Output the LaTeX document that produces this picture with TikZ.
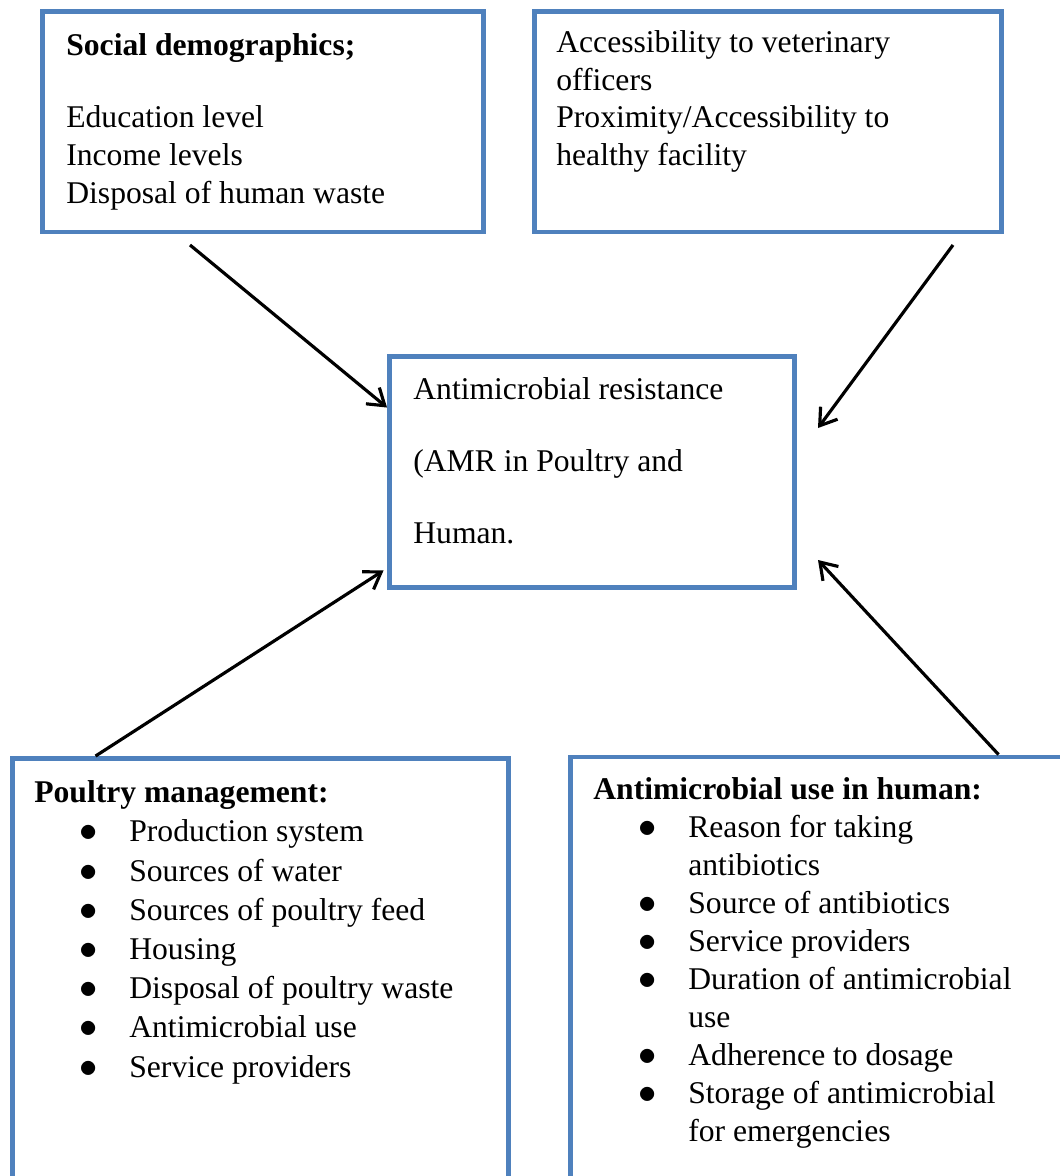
\documentclass[tikz,border=0pt]{standalone}
\usepackage{fontspec}
\setmainfont{Liberation Serif}
\usetikzlibrary{arrows.meta,fit,calc}
\definecolor{boxblue}{RGB}{79,129,189}
\newdimen\pix \pix=0.02cm
\newcommand{\bul}{\hspace*{45.2\pix}\makebox[49.8\pix][l]{\fontsize{20}{0}\selectfont$\bullet$}}
\newcommand{\cont}{\hspace*{95\pix}}
\begin{document}
\begin{tikzpicture}[x=0.02cm,y=-0.02cm,
        box/.style={draw=boxblue,line width=2.8pt,inner sep=0pt},
        txt/.style={anchor=base west,align=left,inner sep=0pt,font=\fontsize{18}{21.4}\selectfont},
        arr/.style={line width=1.8pt,-{Straight Barb[length=9pt,width=12pt]}}]
        \useasboundingbox (0,0) rectangle (1060,1176);
        %riquadri
        \node[box,fit={(42.5,11.5)(483.5,232)}] (social) {};
        \node[box,fit={(534.5,11.5)(1001.5,232)}] (access) {};
        \node[box,fit={(389.5,356.5)(794.5,587.5)}] (amr) {};
        \node[box,fit={(12.5,758.5)(508.5,1200)}] (poultry) {};
        \node[box,fit={(570.5,757)(1100,1200)}] (human) {};
        %testi (base = ultima riga)
        \node[txt] (socialtxt) at (66,203) {\textbf{Social demographics;}\\[19.9pt]
            Education level\\ Income levels\\ Disposal of human waste};
        \node[txt] (accesstxt) at (556,165.5) {Accessibility to veterinary\\ officers\\
            Proximity/Accessibility to\\ healthy facility};
        \node[txt,font=\fontsize{18}{41.1}\selectfont] (amrtxt) at (413,543.5)
            {Antimicrobial resistance\\ (AMR in Poultry and\\ Human.};
        \node[txt,font=\fontsize{18}{22.3}\selectfont] (poultrytxt) at (34,1077)
            {\textbf{Poultry management:}\\ \bul Production system\\ \bul Sources of water\\
            \bul Sources of poultry feed\\ \bul Housing\\ \bul Disposal of poultry waste\\
            \bul Antimicrobial use\\ \bul Service providers};
        \node[txt,font=\fontsize{18}{21.6}\selectfont] (humantxt) at (593,1141)
            {\textbf{Antimicrobial use in human:}\\ \bul Reason for taking\\ \cont antibiotics\\
            \bul Source of antibiotics\\ \bul Service providers\\ \bul Duration of antimicrobial\\
            \cont use\\ \bul Adherence to dosage\\ \bul Storage of antimicrobial\\
            \cont for emergencies};
        %frecce
        \coordinate (s1) at (190,245);
        \coordinate (s2) at (953,245);
        \coordinate (e2) at (818,428);
        \coordinate (e4) at (818,560);
        \draw[arr] (s1) -- ($(amr.north west)+(0,53.5)$);
        \draw[arr] (s2) -- (e2);
        \draw[arr] ($(poultry.north west)+(85.5,0)$) -- ($(amr.south west)+(-3.5,-19.5)$);
        \draw[arr] ($(human.north west)+(430.5,0)$) -- (e4);
\end{tikzpicture}
\end{document}
